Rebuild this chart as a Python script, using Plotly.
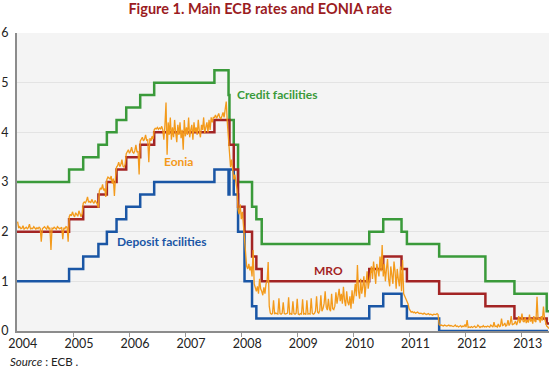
import pandas as pd
import plotly.graph_objects as go

# ---- ECB policy rates (change dates and levels) ----
rate_dates = ["2005-01-01", "2005-12-06", "2006-03-08", "2006-06-15", "2006-08-09",
              "2006-10-11", "2006-12-13", "2007-03-14", "2007-06-13", "2008-07-09",
              "2008-10-09", "2008-10-15", "2008-11-12", "2008-12-10", "2009-01-21",
              "2009-03-11", "2009-04-08", "2009-05-13", "2011-04-13", "2011-07-13",
              "2011-11-09", "2011-12-14", "2012-07-11", "2013-05-08", "2013-11-13",
              "2014-06-11", "2014-06-30"]
mro =    [2.00, 2.25, 2.50, 2.75, 3.00, 3.25, 3.50, 3.75, 4.00, 4.25, 4.25, 3.75, 3.25, 2.50,
          2.00, 1.50, 1.25, 1.00, 1.25, 1.50, 1.25, 1.00, 0.75, 0.50, 0.25, 0.15, 0.15]
credit = [3.00, 3.25, 3.50, 3.75, 4.00, 4.25, 4.50, 4.75, 5.00, 5.25, 4.75, 4.25, 3.75, 3.00,
          3.00, 2.50, 2.25, 1.75, 2.00, 2.25, 2.00, 1.75, 1.50, 1.00, 0.75, 0.40, 0.40]
deposit = [1.00, 1.25, 1.50, 1.75, 2.00, 2.25, 2.50, 2.75, 3.00, 3.25, 2.75, 3.25, 2.75, 2.00,
           1.00, 0.50, 0.25, 0.25, 0.50, 0.75, 0.50, 0.25, 0.00, 0.00, 0.00, -0.10, -0.10]

# ---- EONIA, weekly readings from 2005-01-05 ----
eonia_start = "2005-01-05"
eonia_2005 = [2.20, 2.07, 2.10, 2.06, 2.07, 2.12, 2.05, 2.07, 2.09, 2.06,
              2.08, 2.15, 2.05, 2.07, 2.06, 2.10, 2.07, 2.05, 2.08, 2.06,
              2.09, 2.07, 1.80, 2.06, 2.08, 2.10, 2.07, 2.05, 2.12, 2.06,
              2.08, 1.63, 2.07, 2.06, 2.09, 2.07, 2.05, 2.10, 2.08, 2.06,
              2.07, 2.09, 1.85, 2.08, 2.06, 2.10, 2.09, 1.80]
eonia_2006_07 = [2.30, 2.35, 2.32, 2.40, 2.33, 2.30, 2.38, 2.34, 2.31, 2.42, 2.33, 2.30, 2.36,
                 2.57, 2.60, 2.58, 2.62, 2.70, 2.59, 2.61, 2.58, 2.65, 2.60, 2.57, 2.63, 2.59, 2.56, 2.48,
                 2.82, 2.88, 2.85, 2.95, 2.83, 2.87, 2.70,
                 3.05, 3.10, 3.08, 3.06, 3.12, 2.97, 3.07, 2.72, 3.09,
                 3.30, 3.33, 3.40, 3.31, 3.35, 3.45, 3.32, 3.30, 3.36,
                 3.57, 3.60, 3.65, 3.58, 3.62, 3.70, 3.60, 3.58, 3.63, 3.75, 3.60, 3.62, 3.15,
                 3.82, 3.85, 3.90, 3.83, 3.86, 3.95, 3.84, 3.85, 3.40, 3.88, 3.83, 3.92, 3.86,
                 4.05, 4.08, 4.07, 4.10, 4.06, 4.09, 4.07, 4.12]
eonia_crisis = [4.05, 3.85, 4.15, 4.60, 3.55, 4.20, 3.95, 4.30, 3.85, 4.10, 3.90, 4.25,
                4.00, 3.80, 4.15, 3.95, 4.20, 3.88, 4.05, 3.65, 4.25, 3.92, 4.10, 3.95,
                4.30, 3.90, 4.05, 4.15, 3.85, 4.20, 4.00, 4.10, 3.95, 4.25, 4.02, 3.90,
                4.15, 4.05, 4.30, 3.98, 4.10, 4.20, 4.00, 4.25, 4.05, 4.30, 4.20, 4.30,
                4.30, 4.35, 4.28, 4.32, 4.38, 4.30, 4.27, 4.33, 4.40, 4.30, 4.45, 4.62, 4.20]
eonia_cuts = [3.85, 3.60, 3.30, 3.45, 3.20,
              3.05, 3.15, 2.95, 2.85,
              2.45, 2.35, 2.55, 2.25, 2.40, 2.10,
              1.80, 1.45, 1.30, 1.25, 1.35, 1.22, 1.30,
              1.10, 1.63, 0.95, 0.85,
              0.80, 0.90, 0.75, 1.05, 0.85,
              0.80, 0.72, 0.88, 0.75, 0.95, 1.00, 1.39, 0.50]
eonia_2009_10 = [0.36, 0.34, 0.35, 0.62, 0.34, 0.36, 0.35, 0.34, 0.66, 0.35,
                 0.34, 0.36, 0.58, 0.35, 0.34, 0.35, 0.36, 0.68, 0.34, 0.35,
                 0.33, 0.60, 0.35, 0.34, 0.36, 0.65, 0.34, 0.33, 0.35, 0.34,
                 0.64, 0.34, 0.35, 0.33, 0.62, 0.34, 0.35, 0.34, 0.66, 0.36,
                 0.34, 0.35, 0.40, 0.70, 0.38, 0.36, 0.42, 0.72, 0.40, 0.45,
                 0.55, 0.80, 0.48, 0.42, 0.65, 0.44, 0.40, 0.75, 0.45, 0.43,
                 0.50, 0.78, 0.55, 0.70, 0.85, 0.60, 0.75, 0.55, 0.89, 0.62,
                 0.50, 0.80, 0.58, 0.52, 0.70, 0.45, 0.82, 0.55]
eonia_2011 = [0.75, 0.95, 0.70, 1.33, 0.80, 0.65, 1.05, 0.75, 0.90, 1.10, 0.68, 0.95, 1.20, 0.85, 1.05,
              1.15, 1.30, 1.05, 1.40, 1.20, 0.95, 1.35, 1.25, 1.10, 1.50, 1.20, 1.73,
              1.10, 1.35, 1.00, 1.25, 1.45, 1.05, 0.90, 1.30, 1.15, 0.95, 1.40, 1.20, 0.85,
              1.25, 1.05, 0.90, 1.30,
              0.80, 1.43, 0.75, 0.70, 0.65, 0.60, 0.55]
eonia_2012_13 = [0.45, 0.40, 0.38, 0.39, 0.37, 0.38, 0.36, 0.37, 0.38, 0.36,
                 0.35, 0.36, 0.35, 0.34, 0.36, 0.35, 0.33, 0.34, 0.35, 0.33,
                 0.34, 0.33, 0.32, 0.34, 0.33, 0.33, 0.35, 0.33,
                 0.13, 0.11, 0.12, 0.11, 0.10, 0.12, 0.11, 0.10, 0.11, 0.12,
                 0.10, 0.11, 0.10, 0.09, 0.10, 0.12, 0.09, 0.10, 0.08, 0.09,
                 0.11, 0.08, 0.10, 0.09, 0.13, 0.08, 0.22, 0.07, 0.08, 0.07,
                 0.09, 0.07, 0.08, 0.10, 0.07, 0.08, 0.12, 0.08, 0.07, 0.09,
                 0.08, 0.11, 0.08, 0.09, 0.08, 0.10, 0.09, 0.08, 0.12, 0.09,
                 0.08, 0.18, 0.09, 0.10, 0.08, 0.14, 0.09, 0.10, 0.25, 0.11,
                 0.12, 0.16, 0.10, 0.12, 0.22, 0.11, 0.15, 0.30, 0.12, 0.14]
eonia_2014 = [0.15, 0.20, 0.12, 0.18, 0.30, 0.16, 0.22, 0.35, 0.20, 0.18, 0.28,
              0.16, 0.22, 0.17, 0.33, 0.19, 0.25, 0.15, 0.30, 0.20, 0.18, 0.69,
              0.22, 0.26, 0.17, 0.30, 0.21, 0.49, 0.25, 0.18, 0.10, 0.08, 0.05]

year_labels = ["2004", "2005", "2006", "2007", "2008", "2009", "2010", "2011", "2012", "2013"]

eonia = (eonia_2005 + eonia_2006_07 + eonia_crisis + eonia_cuts + eonia_2009_10
         + eonia_2011 + eonia_2012_13 + eonia_2014)
eonia_dates = pd.date_range(eonia_start, periods=len(eonia), freq="7D")

GREEN, RED, ORANGE, BLUE = "#3a9a3a", "#a32424", "#f39a1b", "#1a56a5"

fig = go.Figure()
fig.add_trace(go.Scatter(x=rate_dates, y=credit, mode="lines", line=dict(color=GREEN, width=2.5, shape="hv")))
fig.add_trace(go.Scatter(x=rate_dates, y=deposit, mode="lines", line=dict(color=BLUE, width=2.5, shape="hv")))
fig.add_trace(go.Scatter(x=rate_dates, y=mro, mode="lines", line=dict(color=RED, width=2.5, shape="hv")))
fig.add_trace(go.Scatter(x=eonia_dates, y=eonia, mode="lines", line=dict(color=ORANGE, width=1.3)))

label_pos = [f"{int(y) + 1}-02-08" for y in year_labels]
minor_ticks = [f"{int(y) + 2}-01-01" for y in year_labels[:-1]]

fig.update_layout(
    width=550, height=371,
    margin=dict(l=15, r=1, t=33, b=40),
    paper_bgcolor="white", plot_bgcolor="#f4f4f4",
    showlegend=False,
    font=dict(family="Lato, Open Sans, sans-serif", color="#222222", size=12),
    title=dict(text="<b>Figure 1. Main ECB rates and EONIA rate</b>", x=0.473, xanchor="center",
               y=0.977, yanchor="middle", font=dict(size=14.5, color="#9b1c1f", family="Lato")),
    xaxis=dict(type="date", range=["2005-01-01", "2014-06-26"], showgrid=False,
               tickmode="array", tickvals=label_pos, ticktext=year_labels, ticks="",
               showline=True, linecolor="#8c8c8c", linewidth=2,
               minor=dict(tickmode="array", tickvals=minor_ticks, ticks="outside", ticklen=4,
                          tickcolor="#9a9a9a", tickwidth=1, showgrid=False),
               tickfont=dict(size=12.5, color="#222")),
    yaxis=dict(range=[0, 6], tickvals=[0, 1, 2, 3, 4, 5, 6], showgrid=True, gridcolor="#e3e3e3",
               gridwidth=1, zeroline=False, showline=True, linecolor="#8c8c8c", linewidth=2,
               ticks="", ticklabelstandoff=4, tickfont=dict(size=12.5, color="#222")),
)

ann = [
    dict(text="<b>Credit facilities</b>", x="2009-08-26", y=4.77, color=GREEN),
    dict(text="<b>Eonia</b>", x="2007-11-16", y=3.42, color=ORANGE),
    dict(text="<b>Deposit facilities</b>", x="2007-08-05", y=1.81, color=BLUE),
    dict(text="<b>MRO</b>", x="2010-07-23", y=1.22, color=RED),
]
for a in ann:
    fig.add_annotation(x=a["x"], y=a["y"], xref="x", yref="y", text=a["text"], showarrow=False,
                       font=dict(size=12, color=a["color"], family="Lato"))
fig.add_annotation(x=-0.017, y=-0.104, xref="paper", yref="paper", xanchor="left", yanchor="middle",
                   text="<i>Source</i> : ECB .", showarrow=False, font=dict(size=11.5, color="#222"))

fig.write_html("out.html", config={"displayModeBar": False},
               post_script="document.body.style.margin='0';")
